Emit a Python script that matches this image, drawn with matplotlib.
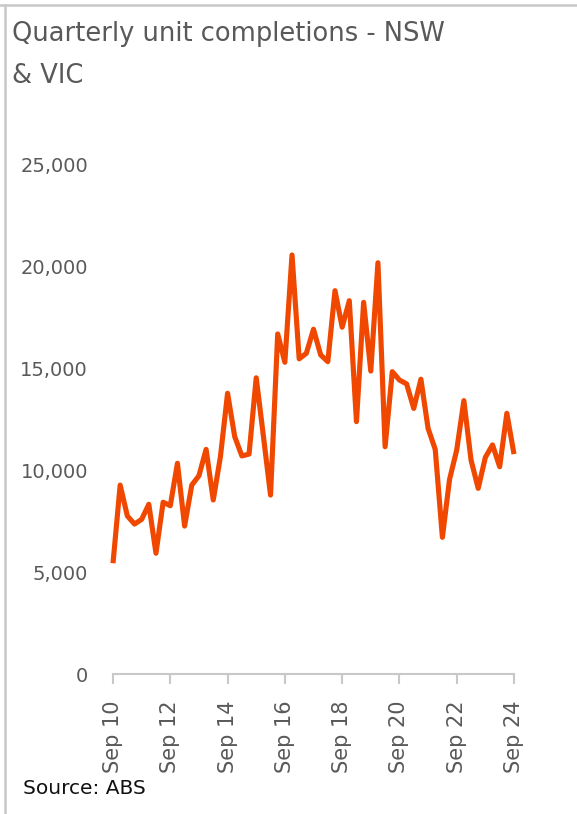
import matplotlib.pyplot as plt
from matplotlib.lines import Line2D

# quarterly unit completions, NSW + VIC (Sep 2010 .. Sep 2024)
completions = [
    5430, 9260, 7750, 7350, 7580, 8320, 5920, 8420, 8250, 10330,
    7250, 9260, 9720, 11010, 8530, 10650, 13760, 11630, 10690, 10780,
    14520, 11670, 8770, 16670, 15280, 20540, 15450, 15720, 16900, 15640,
    15310, 18790, 17000, 18300, 12370, 18220, 14850, 20160, 11140, 14820,
    14410, 14220, 13020, 14450, 12040, 11010, 6700, 9540, 10980, 13400,
    10490, 9100, 10620, 11230, 10160, 12780, 10780,
]
tick_pos = [0, 8, 16, 24, 32, 40, 48, 56]
tick_labels = ["Sep 10", "Sep 12", "Sep 14", "Sep 16", "Sep 18", "Sep 20", "Sep 22", "Sep 24"]
y_ticks = [0, 5000, 10000, 15000, 20000, 25000]

plt.rcParams['font.family'] = ['DejaVu Sans']
grey_txt = "#595959"
grey_line = "#c8c8c8"

fig = plt.figure(figsize=(5.77, 8.14), dpi=100)
ax = fig.add_axes([113 / 577, 140 / 814, 401 / 577, 510 / 814])

x = list(range(len(completions)))
ax.plot(x, completions, color="#f04800", linewidth=3.7, solid_joinstyle="round",
        solid_capstyle="butt", clip_on=False)

ax.set_xlim(0, len(completions) - 1)
ax.set_ylim(0, 25000)
ax.set_yticks(y_ticks)
ax.set_yticklabels([f"{v:,}" for v in y_ticks])
ax.set_xticks(tick_pos)
ax.set_xticklabels(tick_labels, rotation=90)

for s in ["top", "right", "left"]:
    ax.spines[s].set_visible(False)
ax.spines["bottom"].set_color(grey_line)
ax.spines["bottom"].set_linewidth(1.5)
ax.tick_params(axis="y", length=0, pad=18, labelsize=14, labelcolor=grey_txt)
ax.tick_params(axis="x", length=7, width=1.5, color=grey_line, pad=12,
               labelsize=15, labelcolor=grey_txt)

# title, two lines like the original
fig.text(12 / 577, 1 - 41 / 814, "Quarterly unit completions - NSW", fontsize=18.5,
         color=grey_txt, ha="left", va="baseline")
fig.text(12 / 577, 1 - 83 / 814, "& VIC", fontsize=18.5,
         color=grey_txt, ha="left", va="baseline")

fig.text(23 / 577, 1 - 794 / 814, "Source: ABS", fontsize=14.5, color="#111111",
         ha="left", va="baseline")

# frame lines on top and left
fig.add_artist(Line2D([0, 1], [1 - 4.5 / 814] * 2, transform=fig.transFigure,
                      color=grey_line, linewidth=1.8))
fig.add_artist(Line2D([4.5 / 577] * 2, [0, 1 - 4.5 / 814], transform=fig.transFigure,
                      color=grey_line, linewidth=1.8))

fig.savefig("out.png", dpi=100, facecolor="white")
